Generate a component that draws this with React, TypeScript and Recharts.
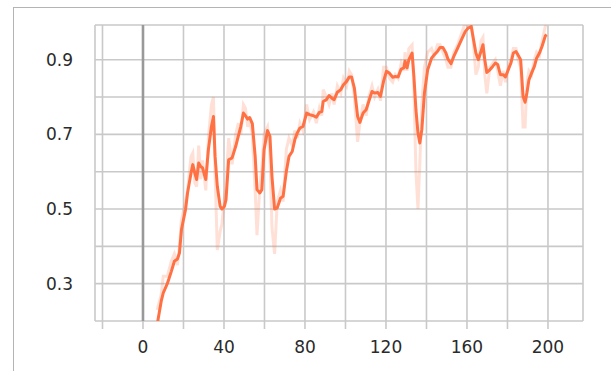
import React from "react";
import { LineChart, Line, XAxis, YAxis, CartesianGrid, ReferenceLine } from "recharts";

// step values (x)
const steps = [
  7, 9, 10, 12, 14, 15.5, 17, 18, 19, 21, 22, 23.7, 24.6, 25.6, 26.5, 27.5, 28.5, 29.4, 31, 32.3,
  33.8, 34.8, 35.6, 36.7, 38.1, 39, 40.2, 41, 42.3, 44, 45.8, 47.1, 48.3, 49.6, 50.6, 51.7, 52.7, 54, 55.4, 56.3,
  57.7, 58.7, 59.8, 61.5, 62.7, 63.7, 65, 66.3, 67.9, 69.2, 70.8, 72.1, 73.7, 75, 76.2, 77.5, 79, 80.8, 82.3, 84.2,
  85.6, 87.1, 88.3, 89, 90.6, 91.9, 93.3, 94.4, 96, 97.7, 99, 100.6, 101.9, 103, 104.4, 106, 107.1, 108.7, 110.2, 111.5,
  113.1, 114.4, 116, 117.3, 118.8, 120.2, 121.7, 123.3, 124.6, 126, 127.5, 128.8, 129.4, 130.4, 131.3, 132.9, 133.8, 134.8, 135.8, 136.7,
  137.7, 139, 140.6, 142.5, 143.8, 145.4, 146.7, 148.1, 149.6, 150.6, 152.1, 153.5, 155.4, 157.3, 159.2, 160.6, 162.1, 163.1, 164.4, 165.6,
  166.9, 167.9, 168.8, 169.8, 171.3, 172.7, 174, 175.2, 176.5, 177.9, 179, 180.4, 181.7, 182.9, 184.2, 185.2, 186.5, 187.7, 188.7, 189.6,
  190.6, 191.9, 193.3, 194.4, 195.8, 197.1, 198.7, 199.4,
];

// smoothed curve
const smoothed = [
  0.19, 0.253, 0.275, 0.3, 0.333, 0.36, 0.366, 0.382, 0.445, 0.498, 0.543, 0.596, 0.619, 0.596, 0.579, 0.623, 0.614, 0.61, 0.579, 0.659,
  0.721, 0.748, 0.641, 0.561, 0.507, 0.5, 0.507, 0.525, 0.632, 0.637, 0.668, 0.696, 0.721, 0.757, 0.75, 0.741, 0.745, 0.729, 0.641, 0.552,
  0.543, 0.552, 0.659, 0.71, 0.695, 0.587, 0.5, 0.503, 0.529, 0.534, 0.601, 0.641, 0.654, 0.686, 0.704, 0.717, 0.721, 0.757, 0.753, 0.75,
  0.746, 0.759, 0.761, 0.788, 0.793, 0.804, 0.797, 0.793, 0.813, 0.82, 0.833, 0.842, 0.854, 0.854, 0.824, 0.748, 0.732, 0.757, 0.766, 0.788,
  0.815, 0.811, 0.812, 0.802, 0.842, 0.869, 0.864, 0.853, 0.855, 0.854, 0.875, 0.878, 0.896, 0.878, 0.9, 0.918, 0.855, 0.766, 0.704, 0.677,
  0.712, 0.811, 0.873, 0.904, 0.913, 0.922, 0.933, 0.933, 0.918, 0.902, 0.889, 0.909, 0.931, 0.954, 0.976, 0.985, 0.989, 0.958, 0.918, 0.9,
  0.922, 0.94, 0.9, 0.866, 0.873, 0.882, 0.891, 0.887, 0.86, 0.86, 0.854, 0.873, 0.891, 0.918, 0.922, 0.913, 0.9, 0.802, 0.786, 0.811,
  0.846, 0.864, 0.882, 0.904, 0.918, 0.936, 0.964, 0.967,
];

// raw (faint) values
const raw = [
  0.23, 0.27, 0.32, 0.32, 0.36, 0.38, 0.35, 0.4, 0.47, 0.52, 0.55, 0.64, 0.65, 0.57, 0.56, 0.67, 0.58, 0.63, 0.55, 0.69,
  0.78, 0.8, 0.6, 0.39, 0.44, 0.46, 0.53, 0.56, 0.69, 0.62, 0.7, 0.73, 0.7, 0.78, 0.77, 0.72, 0.74, 0.7, 0.55, 0.43,
  0.56, 0.61, 0.7, 0.72, 0.64, 0.45, 0.38, 0.52, 0.55, 0.52, 0.66, 0.69, 0.67, 0.71, 0.69, 0.73, 0.71, 0.78, 0.74, 0.76,
  0.73, 0.77, 0.75, 0.82, 0.8, 0.78, 0.81, 0.78, 0.83, 0.81, 0.85, 0.83, 0.87, 0.86, 0.8, 0.68, 0.73, 0.78, 0.75, 0.8,
  0.83, 0.8, 0.82, 0.79, 0.88, 0.88, 0.85, 0.84, 0.86, 0.85, 0.89, 0.87, 0.92, 0.87, 0.93, 0.94, 0.82, 0.6, 0.5, 0.62,
  0.78, 0.88, 0.92, 0.93, 0.91, 0.94, 0.94, 0.92, 0.9, 0.88, 0.88, 0.92, 0.94, 0.97, 1.0, 0.99, 1.0, 0.95, 0.86, 0.88,
  0.95, 0.96, 0.86, 0.81, 0.88, 0.89, 0.9, 0.87, 0.83, 0.87, 0.84, 0.88, 0.9, 0.93, 0.93, 0.9, 0.88, 0.72, 0.72, 0.84,
  0.87, 0.86, 0.9, 0.92, 0.91, 0.95, 0.99, 1.0,
];

const xTicks = [-20, 0, 20, 40, 60, 80, 100, 120, 140, 160, 180, 200];
const yTicks = [0.2, 0.3, 0.4, 0.5, 0.6, 0.7, 0.8, 0.9];
const xLabeled = [0, 40, 80, 120, 160, 200];
const yLabeled = [0.3, 0.5, 0.7, 0.9];

const chartData = steps.map((step, i) => ({ step, smoothed: smoothed[i], raw: raw[i] }));

const FONT = "DejaVu Sans, sans-serif";
const ORANGE = "#ff7043";
const GRID = "#c9c9c9";

const XTick = ({ x, y, payload }: any) => {
  if (!xLabeled.includes(payload.value)) return null;
  return (
    <text x={x} y={y} dy="0.71em" textAnchor="middle" fill="#2a2a2a" fontSize={17} fontFamily={FONT}>
      {payload.value}
    </text>
  );
};

const YTick = ({ x, y, payload }: any) => {
  const v = Math.round(payload.value * 10) / 10;
  if (!yLabeled.includes(v)) return null;
  return (
    <text x={x} y={y} dy="0.355em" textAnchor="end" fill="#2a2a2a" fontSize={17} fontFamily={FONT}>
      {v.toFixed(1)}
    </text>
  );
};

export default function App() {
  return (
    <div style={{ position: "absolute", left: 0, top: 0, width: 611, height: 371, background: "#fff" }}>
      <style>{"body{margin:0}"}</style>
      {/* frame */}
      <div style={{ position: "absolute", left: 13, top: 7, right: 0, height: 1, background: "#b4b4b4" }} />
      <div style={{ position: "absolute", left: 13, top: 7, bottom: 0, width: 1, background: "#b4b4b4" }} />
      <div style={{ position: "absolute", left: 0, top: 0 }}>
        <LineChart width={611} height={371} data={chartData} margin={{ top: 25, right: 28, left: 0, bottom: 8 }}>
          <CartesianGrid stroke={GRID} strokeWidth={1.6} />
          <XAxis
            dataKey="step"
            type="number"
            domain={[-23.7, 217.3]}
            ticks={xTicks}
            allowDataOverflow
            axisLine={false}
            tickLine={{ stroke: GRID, strokeWidth: 1.6 }}
            tickSize={8}
            tickMargin={12}
            height={42}
            tick={<XTick />}
            interval={0}
          />
          <YAxis
            type="number"
            domain={[0.2, 0.993]}
            ticks={yTicks}
            allowDataOverflow
            axisLine={false}
            tickLine={false}
            tickSize={0}
            tickMargin={22}
            width={95}
            tick={<YTick />}
            interval={0}
          />
          <ReferenceLine x={0} stroke="#999999" strokeWidth={2.6} />
          <Line
            type="linear"
            dataKey="raw"
            stroke={ORANGE}
            strokeOpacity={0.22}
            strokeWidth={3}
            dot={false}
            isAnimationActive={false}
          />
          <Line
            type="linear"
            dataKey="smoothed"
            stroke={ORANGE}
            strokeWidth={3}
            strokeLinejoin="round"
            dot={false}
            isAnimationActive={false}
          />
        </LineChart>
      </div>
    </div>
  );
}
